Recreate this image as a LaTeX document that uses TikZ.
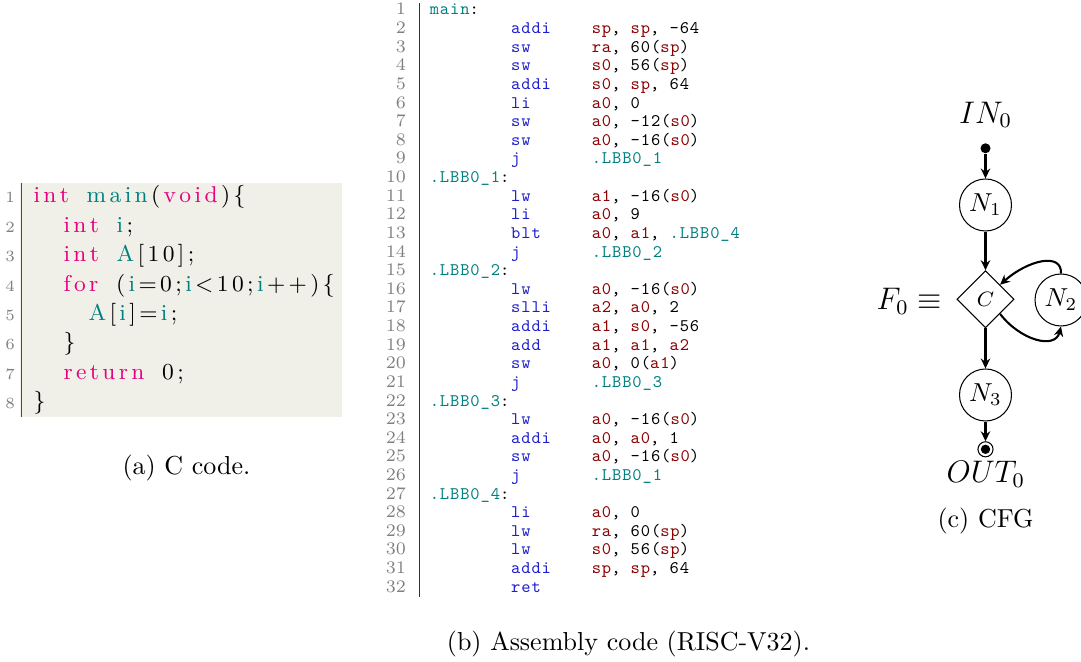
\documentclass[tikz,border=0pt]{standalone}
\usepackage{fontspec}
\usepackage{xcolor}
\usepackage{amsmath}
\usepackage{amssymb}
\usepackage{tikz}
\usetikzlibrary{arrows.meta}
\usetikzlibrary{shapes.geometric}
\usetikzlibrary{positioning}
\tikzset{>={Stealth[length=3.8pt,width=3.6pt]}}

\definecolor{kwpink}{RGB}{228,0,127}
\definecolor{idteal}{RGB}{0,128,128}
\definecolor{asmblue}{RGB}{30,30,205}
\definecolor{asmred}{RGB}{139,0,0}
\definecolor{codebg}{RGB}{241,240,232}
\definecolor{numgray}{RGB}{128,128,128}

\newfontfamily\asmtt{lmmono10-regular.otf}[LetterSpace=5]
% letter spaced C code
\newlength{\lsk}
\setlength{\lsk}{1.3pt}
\def\lsloop#1{\ifx#1\relax\else#1\kern\lsk\expandafter\lsloop\fi}
\newcommand{\ls}[1]{\lsloop#1\relax}
\newcommand{\gap}{\hspace{5.5pt}}
\newcommand{\kw}[1]{\textcolor{kwpink}{\ls{#1}}}
\newcommand{\idt}[1]{\textcolor{idteal}{\ls{#1}}}
\newcommand{\mn}[1]{\textcolor{asmblue}{#1}}
\newcommand{\rg}[1]{\textcolor{asmred}{#1}}
\newcommand{\lb}[1]{\textcolor{idteal}{#1}}

\tikzstyle{cline} = [anchor=base west, inner sep=0, font=\fontsize{8.8}{10}\selectfont]
\tikzstyle{cnum} = [anchor=base east, inner sep=0, text=numgray, font=\fontsize{6}{7}\selectfont]
\tikzstyle{anum} = [anchor=base east, inner sep=0, text=numgray, font=\fontsize{6.8}{8}\selectfont]
\tikzstyle{asm} = [anchor=base west, inner sep=0, font=\asmtt\fontsize{6.8}{8}\selectfont]
\tikzstyle{captxt} = [anchor=base, inner sep=0]
\tikzstyle{blk} = [circle, draw, minimum size=20pt, inner sep=0]
\tikzstyle{cond} = [diamond, draw, minimum size=22pt, inner sep=0, font=\footnotesize]
\tikzstyle{flow} = [->, thick]

\begin{document}
\begin{tikzpicture}[x=0.3846pt, y=-0.3846pt]
\useasboundingbox (0,0) rectangle (1081,662);

% (a) C code
\fill[codebg] (20,183) rectangle (342,417);
\draw[black!70, line width=0.7pt] (21.5,183) -- (21.5,417);
\foreach \k in {1,...,8}
  \node[cnum] (cn\k) at (15.5,{203+29.4*(\k-1)}) {\k};
\node[cline] (c1) at (33,203) {\kw{int}\gap\idt{main}\ls{(}\kw{void}\ls{)\{}};
\node[cline] (c2) at (63,232.4) {\kw{int}\gap\idt{i}\ls{;}};
\node[cline] (c3) at (63,261.8) {\kw{int}\gap\idt{A}\ls{[10];}};
\node[cline] (c4) at (63,291.2) {\kw{for}\gap\ls{(}\idt{i}\ls{=0;}\idt{i}\ls{<10;}\idt{i}\ls{++)\{}};
\node[cline] (c5) at (88,320.6) {\idt{A}\ls{[}\idt{i}\ls{]=}\idt{i}\ls{;}};
\node[cline] (c6) at (63,350) {\ls{\}}};
\node[cline] (c7) at (63,379.4) {\kw{return}\gap\ls{0;}};
\node[cline] (c8) at (33,408.8) {\ls{\}}};
\node[captxt] (capa) at (186.5,474.3) {(a) C code.};

% (b) assembly
\draw[black!80, line width=0.6pt] (419.3,3) -- (419.3,597);
\foreach \k in {1,...,32}
  \node[anum] (an\k) at (406.5,{15+18.62*(\k-1)}) {\k};
\foreach \k/\l in {1/main, 10/.LBB0\_1, 15/.LBB0\_2, 22/.LBB0\_3, 27/.LBB0\_4}
  \node[asm] (al\k) at (429.3,{15+18.62*(\k-1)}) {\lb{\l}:};
\foreach \k/\m/\o in {2/addi/{\rg{sp}, \rg{sp}, -64}, 3/sw/{\rg{ra}, 60(\rg{sp})},
    4/sw/{\rg{s0}, 56(\rg{sp})}, 5/addi/{\rg{s0}, \rg{sp}, 64}, 6/li/{\rg{a0}, 0},
    7/sw/{\rg{a0}, -12(\rg{s0})}, 8/sw/{\rg{a0}, -16(\rg{s0})}, 9/j/{\lb{.LBB0\_1}},
    11/lw/{\rg{a1}, -16(\rg{s0})}, 12/li/{\rg{a0}, 9}, 13/blt/{\rg{a0}, \rg{a1}, \lb{.LBB0\_4}},
    14/j/{\lb{.LBB0\_2}}, 16/lw/{\rg{a0}, -16(\rg{s0})}, 17/slli/{\rg{a2}, \rg{a0}, 2},
    18/addi/{\rg{a1}, \rg{s0}, -56}, 19/add/{\rg{a1}, \rg{a1}, \rg{a2}}, 20/sw/{\rg{a0}, 0(\rg{a1})},
    21/j/{\lb{.LBB0\_3}}, 23/lw/{\rg{a0}, -16(\rg{s0})}, 24/addi/{\rg{a0}, \rg{a0}, 1},
    25/sw/{\rg{a0}, -16(\rg{s0})}, 26/j/{\lb{.LBB0\_1}}, 28/li/{\rg{a0}, 0},
    29/lw/{\rg{ra}, 60(\rg{sp})}, 30/lw/{\rg{s0}, 56(\rg{sp})}, 31/addi/{\rg{sp}, \rg{sp}, 64}}{
  \node[asm] (am\k) at (510.7,{15+18.62*(\k-1)}) {\mn{\m}};
  \node[asm] (ao\k) at (591.3,{15+18.62*(\k-1)}) {\o};
}
\node[asm] (am32) at (510.7,{15+18.62*31}) {\mn{ret}};
\node[captxt] (capb) at (628.5,650.7) {(b) Assembly code (RISC-V32).};

% (c) CFG
\node[captxt, font=\large] (in0) at (985.5,123.3) {$IN_0$};
\node[circle, fill, inner sep=0, minimum size=3.85pt] (start) at (985.5,148.3) {};
\node[blk] (n1) at (985.5,205) {$N_1$};
\node[cond] (c) at (985.5,299.3) {$C$};
\node[blk] (n2) at (1061,300) {$N_2$};
\node[captxt, font=\large] (f0) at (909.2,310) {$F_0 \equiv$};
\node[blk] (n3) at (985.5,395) {$N_3$};
\node[circle, draw, inner sep=0, minimum size=5.8pt,
  path picture={\fill (path picture bounding box.center) circle (1.8pt);}] (stop) at (985.5,449.3) {};
\node[captxt, font=\large] (out0) at (985.8,482.7) {$OUT_0$};
\draw[flow] (start) -- (n1);
\draw[flow] (n1) -- (c);
\draw[flow] (c) -- (n3);
\draw[flow] (n3) -- (stop);
\draw[flow] (n2.north) .. controls (1062,252) and (1028,260) .. (c.north east);
\draw[flow] (c.south east) .. controls (1020,340) and (1055,350) .. (n2.south);
\node[captxt] (capc) at (985.5,527.3) {(c) CFG};
\end{tikzpicture}
\end{document}
